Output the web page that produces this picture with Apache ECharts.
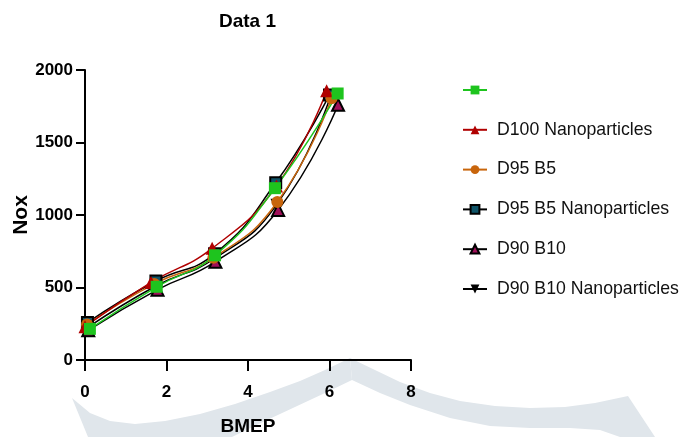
<!DOCTYPE html>
<html>
<head>
<meta charset="utf-8">
<script src="https://cdn.jsdelivr.net/npm/echarts@6/dist/echarts.min.js"></script>
<style>
  html, body { margin: 0; padding: 0; background: #fff; }
  #chart { width: 683px; height: 437px; }
</style>
</head>
<body>
<div id="chart"></div>
<script>
// BMEP (x) and Nox (y) readings for each fuel blend
const xTicks = [0, 2, 4, 6, 8];
const yTicks = [0, 500, 1000, 1500, 2000];

const d100X = [0.12, 1.76, 3.19, 4.66, 6.20];
const d100Y = [215, 505, 722, 1185, 1838];

const d100NanoX = [0.00, 1.62, 3.12, 4.70, 5.93];
const d100NanoY = [230, 535, 770, 1200, 1857];

const d95b5X = [0.05, 1.70, 3.15, 4.72, 6.05];
const d95b5Y = [245, 525, 705, 1090, 1805];

const d95b5NanoX = [0.06, 1.74, 3.18, 4.68, 6.00];
const d95b5NanoY = [258, 545, 732, 1222, 1828];

const d90b10X = [0.08, 1.78, 3.20, 4.74, 6.21];
const d90b10Y = [205, 485, 678, 1035, 1760];

const d90b10NanoX = [0.07, 1.75, 3.18, 4.70, 6.02];
const d90b10NanoY = [225, 512, 700, 1070, 1815];

const legendNames = [' ', 'D100 Nanoparticles', 'D95 B5', 'D95 B5 Nanoparticles', 'D90 B10', 'D90 B10 Nanoparticles'];

const pairs = (xs, ys) => xs.map((x, i) => [x, ys[i]]);

const sans = '"Liberation Sans", Arial, sans-serif';

function lineSeries(name, xs, ys, opts) {
  return Object.assign({
    name: name,
    type: 'line',
    data: pairs(xs, ys),
    smooth: true,
    symbolSize: 12,
    lineStyle: { width: 1.5, color: opts.line },
    itemStyle: { color: opts.fill, borderColor: opts.border || opts.fill, borderWidth: opts.border ? 2 : 0 }
  }, opts.extra || {});
}

// faint emblem arcs behind the plot
const emblemLeft = [
  [72, 398], [90, 413], [110, 421], [135, 424], [165, 421], [200, 414], [235, 404],
  [270, 392], [300, 381], [325, 370], [350, 358], [352, 380], [325, 393], [295, 407],
  [265, 421], [240, 433], [232, 437], [88, 437]
];
const emblemRight = [
  [350, 358], [375, 370], [400, 382], [430, 393], [460, 401], [495, 406], [530, 408],
  [565, 407], [595, 403], [628, 396], [655, 437], [620, 437], [600, 430], [570, 428],
  [530, 428], [490, 426], [450, 418], [410, 405], [380, 393], [352, 380]
];

const chart = echarts.init(document.getElementById('chart'), null, { renderer: 'canvas' });

chart.setOption({
  animation: false,
  backgroundColor: '#ffffff',
  title: {
    text: 'Data 1',
    left: 214,
    top: 7,
    textStyle: { fontFamily: sans, fontWeight: 'bold', fontSize: 19, color: '#000' }
  },
  graphic: [
    { type: 'polygon', z: -10, silent: true, shape: { points: emblemLeft }, style: { fill: '#e0e6eb' } },
    { type: 'polygon', z: -10, silent: true, shape: { points: emblemRight }, style: { fill: '#e0e6eb' } }
  ],
  legend: {
    data: legendNames,
    orient: 'vertical',
    left: 462,
    top: 81,
    padding: 0,
    itemWidth: 24,
    itemHeight: 11,
    itemGap: 21.8,
    textStyle: { fontFamily: sans, fontSize: 17.7, color: '#111', padding: [0, 0, 0, 5] }
  },
  grid: { left: 85, right: 272, top: 70, bottom: 77, containLabel: false, outerBoundsMode: 'none' },
  xAxis: {
    type: 'value',
    min: xTicks[0],
    max: xTicks[xTicks.length - 1],
    interval: xTicks[1] - xTicks[0],
    name: 'BMEP',
    nameLocation: 'middle',
    nameGap: 57,
    nameTextStyle: { fontFamily: sans, fontWeight: 'bold', fontSize: 19, color: '#000' },
    axisLine: { lineStyle: { color: '#000', width: 2 } },
    axisTick: { length: 11, lineStyle: { color: '#000', width: 2 } },
    axisLabel: { margin: 24, fontFamily: sans, fontWeight: 'bold', fontSize: 17, color: '#000',
      formatter: v => String(v) },
    splitLine: { show: false }
  },
  yAxis: {
    type: 'value',
    min: yTicks[0],
    max: yTicks[yTicks.length - 1],
    interval: yTicks[1] - yTicks[0],
    name: 'Nox',
    nameLocation: 'middle',
    nameGap: 50,
    nameTextStyle: { fontFamily: sans, fontWeight: 'bold', fontSize: 21, color: '#000' },
    axisLine: { show: true, lineStyle: { color: '#000', width: 2 } },
    axisTick: { show: true, length: 9, lineStyle: { color: '#000', width: 2 } },
    axisLabel: { margin: 12, fontFamily: sans, fontWeight: 'bold', fontSize: 17, color: '#000',
      formatter: v => String(v) },
    splitLine: { show: false }
  },
  series: [
    lineSeries('D90 B10 Nanoparticles', d90b10NanoX, d90b10NanoY,
      { line: '#000', fill: '#000', extra: { symbol: 'triangle', symbolRotate: 180, symbolSize: 12 } }),
    lineSeries('D90 B10', d90b10X, d90b10Y,
      { line: '#000', fill: '#a0105a', border: '#000', extra: { symbol: 'triangle', symbolSize: 12 } }),
    lineSeries('D95 B5 Nanoparticles', d95b5NanoX, d95b5NanoY,
      { line: '#000', fill: '#0f5468', border: '#000', extra: { symbol: 'rect', symbolSize: 11 } }),
    lineSeries('D95 B5', d95b5X, d95b5Y,
      { line: '#c8650c', fill: '#c8650c', extra: { symbol: 'circle', symbolSize: 12 } }),
    lineSeries('D100 Nanoparticles', d100NanoX, d100NanoY,
      { line: '#b00000', fill: '#b00000', extra: { symbol: 'triangle', symbolSize: 13 } }),
    lineSeries(' ', d100X, d100Y,
      { line: '#1ec41e', fill: '#1ec41e', extra: { symbol: 'rect', symbolSize: 12 } })
  ]
});
</script>
</body>
</html>
